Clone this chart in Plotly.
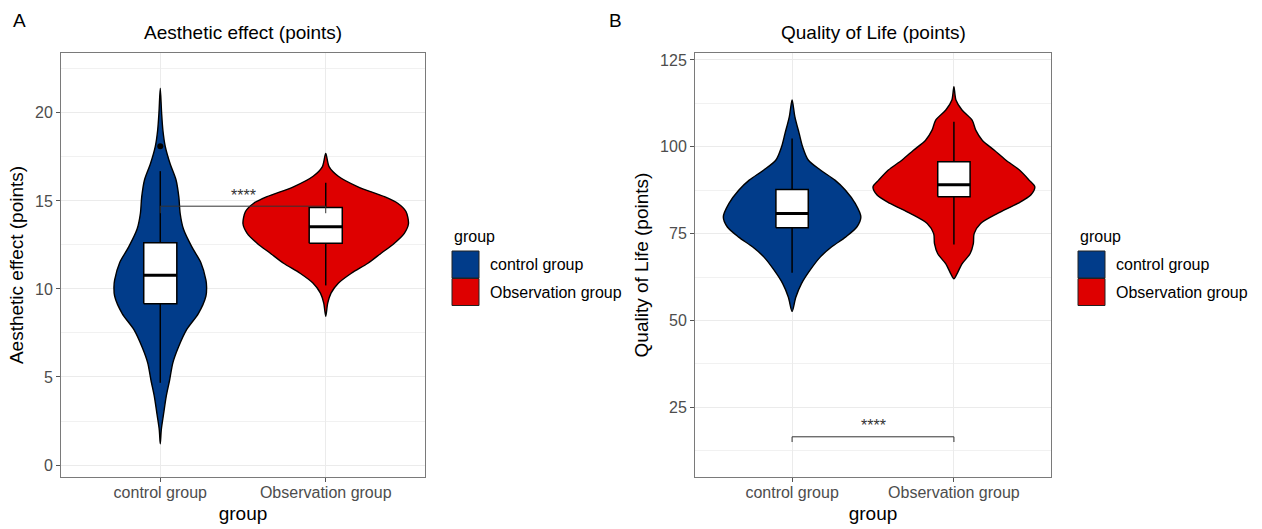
import plotly.graph_objects as go

# ---------------- data ----------------
groups = ["control group", "Observation group"]
group_colors = ["#013C8A", "#DE0000"]
positions = [1, 2]

# Aesthetic effect (points): violin outlines as (value, relative half-width)
ae_ctrl_y = [21.4, 20.0, 19.0, 18.1, 17.1, 16.2, 15.2, 14.3, 13.4, 12.4, 11.5,
             10.5, 10.1, 9.6, 8.6, 7.7, 6.7, 5.8, 4.8, 3.9, 2.9, 2.0, 1.2]
ae_ctrl_w = [0.0, 0.016, 0.032, 0.06, 0.12, 0.19, 0.225, 0.24, 0.28, 0.38, 0.49,
             0.552, 0.56, 0.552, 0.46, 0.32, 0.22, 0.152, 0.112, 0.072, 0.04, 0.012, 0.0]
ae_obs_y = [17.7, 16.95, 16.4, 15.8, 15.24, 14.87, 14.4, 13.7, 13.16, 12.6, 12.03,
            11.46, 10.89, 10.32, 9.76, 9.19, 8.45]
ae_obs_w = [0.0, 0.04, 0.152, 0.39, 0.71, 0.87, 0.97, 1.0, 0.95, 0.83, 0.67,
            0.51, 0.31, 0.152, 0.064, 0.024, 0.0]

# Aesthetic effect box statistics per group
ae_lower = [4.67, 10.2]
ae_q1 = [9.16, 12.59]
ae_median = [10.78, 13.53]
ae_q3 = [12.62, 14.62]
ae_upper = [16.69, 16.03]
ae_outliers = [[18.1], []]

# Quality of Life (points): violin outlines
qol_ctrl_y = [113.5, 108.7, 103.8, 100.0, 96.2, 93.3, 90.4, 87.5, 83.7, 79.8,
              76.9, 74.0, 71.2, 68.3, 64.4, 60.6, 56.7, 52.6]
qol_ctrl_w = [0.0, 0.034, 0.088, 0.13, 0.2, 0.35, 0.53, 0.66, 0.78, 0.85,
              0.80, 0.66, 0.49, 0.35, 0.22, 0.116, 0.046, 0.0]
qol_obs_y = [117.3, 113.5, 110.6, 107.7, 104.8, 101.9, 99.0, 96.2, 93.3, 90.4,
             88.5, 86.1, 83.7, 80.8, 77.9, 75.0, 72.1, 69.2, 66.3, 63.5, 62.0]
qol_obs_w = [0.0, 0.025, 0.1, 0.225, 0.27, 0.35, 0.5, 0.64, 0.81, 0.93,
             1.0, 0.95, 0.79, 0.54, 0.33, 0.25, 0.24, 0.2, 0.1, 0.04, 0.0]

# Quality of Life box statistics per group
qol_lower = [63.7, 71.9]
qol_q1 = [76.7, 85.6]
qol_median = [80.8, 89.1]
qol_q3 = [87.7, 95.7]
qol_upper = [102.4, 107.2]
qol_outliers = [[], []]

# significance brackets: (bracket height, tip end, label)
ae_sig = (14.7, 14.3, "****")
qol_sig = (16.5, 15.0, "****")

ae_ticks = [0, 5, 10, 15, 20]
ae_minor = [2.5, 7.5, 12.5, 17.5, 22.5]
qol_ticks = [25, 50, 75, 100, 125]
qol_minor = [12.5, 37.5, 62.5, 87.5, 112.5]

# ---------------- styling helpers ----------------
W, H = 1262, 529
FONT = "Liberation Sans, Arial, sans-serif"
VIOLIN_HALF = 0.5
BOX_HALF = 0.1


def fx(px):
    return px / W


def fy(py):
    return 1 - py / H


def violin_trace(pos, ys, ws, color, xa, ya):
    right_x = [pos + w * VIOLIN_HALF for w in ws]
    left_x = [pos - w * VIOLIN_HALF for w in ws][1:-1][::-1]
    xs = right_x + left_x + [right_x[0]]
    yv = list(ys) + list(ys[1:-1][::-1]) + [ys[0]]
    return go.Scatter(x=xs, y=yv, mode="lines", fill="toself", fillcolor=color,
                      line=dict(color="black", width=1.4, shape="spline", smoothing=0.8),
                      xaxis=xa, yaxis=ya, hoverinfo="skip", showlegend=False)


def box_traces(pos, lo, q1, med, q3, hi, outl, xa, ya):
    tr = []
    tr.append(go.Scatter(x=[pos, pos], y=[lo, hi], mode="lines",
                         line=dict(color="black", width=1.5),
                         xaxis=xa, yaxis=ya, hoverinfo="skip", showlegend=False))
    tr.append(go.Scatter(x=[pos - BOX_HALF, pos + BOX_HALF, pos + BOX_HALF, pos - BOX_HALF, pos - BOX_HALF],
                         y=[q1, q1, q3, q3, q1], mode="lines", fill="toself", fillcolor="white",
                         line=dict(color="black", width=1.5),
                         xaxis=xa, yaxis=ya, hoverinfo="skip", showlegend=False))
    tr.append(go.Scatter(x=[pos - BOX_HALF, pos + BOX_HALF], y=[med, med], mode="lines",
                         line=dict(color="black", width=3),
                         xaxis=xa, yaxis=ya, hoverinfo="skip", showlegend=False))
    if outl:
        tr.append(go.Scatter(x=[pos] * len(outl), y=outl, mode="markers",
                             marker=dict(color="black", size=6),
                             xaxis=xa, yaxis=ya, hoverinfo="skip", showlegend=False))
    return tr


def bracket_trace(sig, xa, ya):
    top, tip, _ = sig
    return go.Scatter(x=[positions[0], positions[0], positions[1], positions[1]],
                      y=[tip, top, top, tip], mode="lines",
                      line=dict(color="#333333", width=1),
                      xaxis=xa, yaxis=ya, hoverinfo="skip", showlegend=False)


fig = go.Figure()

panels = [
    dict(xa="x", ya="y",
         vy=[ae_ctrl_y, ae_obs_y], vw=[ae_ctrl_w, ae_obs_w],
         stats=(ae_lower, ae_q1, ae_median, ae_q3, ae_upper, ae_outliers), sig=ae_sig),
    dict(xa="x2", ya="y2",
         vy=[qol_ctrl_y, qol_obs_y], vw=[qol_ctrl_w, qol_obs_w],
         stats=(qol_lower, qol_q1, qol_median, qol_q3, qol_upper, qol_outliers), sig=qol_sig),
]

for p in panels:
    for i in range(2):
        fig.add_trace(violin_trace(positions[i], p["vy"][i], p["vw"][i], group_colors[i], p["xa"], p["ya"]))
    lo, q1, med, q3, hi, outl = p["stats"]
    for i in range(2):
        for t in box_traces(positions[i], lo[i], q1[i], med[i], q3[i], hi[i], outl[i], p["xa"], p["ya"]):
            fig.add_trace(t)
    fig.add_trace(bracket_trace(p["sig"], p["xa"], p["ya"]))

# ---------------- axes ----------------
common_x = dict(range=[0.4, 2.6], tickvals=positions, ticktext=groups,
                showgrid=True, gridcolor="#EBEBEB", gridwidth=1, zeroline=False,
                showline=True, linecolor="#7A7A7A", linewidth=1, mirror=True,
                ticks="outside", ticklen=4, tickcolor="#555555", ticklabelstandoff=-3,
                tickfont=dict(family=FONT, size=16, color="#4D4D4D"),
                title=dict(text="group", font=dict(family=FONT, size=19, color="black"), standoff=6),
                fixedrange=True)
common_y = dict(showgrid=True, gridcolor="#EBEBEB", gridwidth=1, zeroline=False,
                showline=True, linecolor="#7A7A7A", linewidth=1, mirror=True,
                ticks="outside", ticklen=4, tickcolor="#555555",
                tickfont=dict(family=FONT, size=16, color="#4D4D4D"),
                fixedrange=True)

fig.update_layout(
    width=W, height=H,
    margin=dict(l=0, r=0, t=0, b=0),
    paper_bgcolor="white", plot_bgcolor="white",
    showlegend=False,
    xaxis=dict(domain=[fx(61), fx(425)], anchor="y", **common_x),
    yaxis=dict(domain=[fy(477), fy(53)], anchor="x", range=[-0.68, 23.4], tickvals=ae_ticks,
               minor=dict(tickvals=ae_minor, showgrid=True, gridcolor="#F1F1F1", gridwidth=1),
               title=dict(text="Aesthetic effect (points)", font=dict(family=FONT, size=19, color="black"), standoff=6),
               **common_y),
    xaxis2=dict(domain=[fx(695), fx(1051)], anchor="y2", **common_x),
    yaxis2=dict(domain=[fy(477), fy(53)], anchor="x2", range=[4.93, 127.0], tickvals=qol_ticks,
                minor=dict(tickvals=qol_minor, showgrid=True, gridcolor="#F1F1F1", gridwidth=1),
                title=dict(text="Quality of Life (points)", font=dict(family=FONT, size=19, color="black"), standoff=6),
                **common_y),
)

annotations = []
shapes = []

# panel letters and titles
for letter, lx in (("A", 19), ("B", 615)):
    annotations.append(dict(text=letter, x=fx(lx), y=fy(20), xref="paper", yref="paper",
                            xanchor="center", yanchor="middle", showarrow=False,
                            font=dict(family=FONT, size=19, color="black")))
for title, left, right in (("Aesthetic effect (points)", 61, 425), ("Quality of Life (points)", 695, 1051)):
    annotations.append(dict(text=title, x=fx((left + right) / 2), y=fy(32), xref="paper", yref="paper",
                            xanchor="center", yanchor="middle", showarrow=False,
                            font=dict(family=FONT, size=19, color="black")))

# significance labels
for sig, xr, yr in ((ae_sig, "x", "y"), (qol_sig, "x2", "y2")):
    annotations.append(dict(text=sig[2], x=sum(positions) / 2, y=sig[0], xref=xr, yref=yr,
                            xanchor="center", yanchor="middle", yshift=11, showarrow=False,
                            font=dict(family=FONT, size=16, color="#333333")))

# legends (one per panel)
for left in (452, 1078):
    annotations.append(dict(text="group", x=fx(left), y=fy(236), xref="paper", yref="paper",
                            xanchor="left", yanchor="middle", showarrow=False,
                            font=dict(family=FONT, size=16, color="black")))
    for i, (name, col) in enumerate(zip(groups, group_colors)):
        top = 251 + i * 27.5
        shapes.append(dict(type="rect", xref="paper", yref="paper",
                           x0=fx(left), x1=fx(left + 27), y0=fy(top + 27), y1=fy(top),
                           fillcolor=col, line=dict(color="#222222", width=1)))
        annotations.append(dict(text=name, x=fx(left + 36), y=fy(top + 13.5), xref="paper", yref="paper",
                                xanchor="left", yanchor="middle", showarrow=False,
                                font=dict(family=FONT, size=16, color="black")))

fig.update_layout(annotations=annotations, shapes=shapes)

fig.write_html("out.html")
